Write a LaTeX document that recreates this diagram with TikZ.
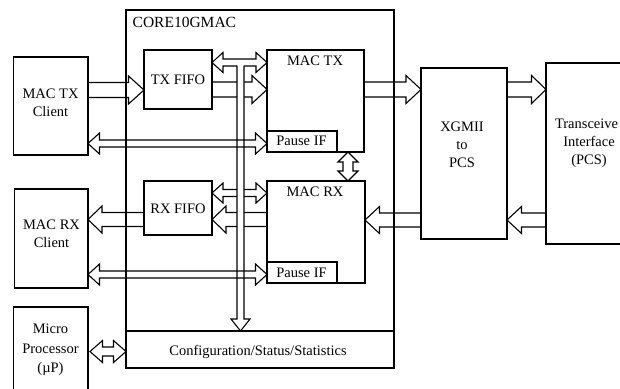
\documentclass[tikz,border=0pt]{standalone}
\usepackage{fontspec}
\setmainfont{Liberation Serif}
\usetikzlibrary{calc}
\tikzset{
  ln/.style={line width=1.1pt, draw=black},
  blk/.style={draw=black, line width=1.1pt, inner sep=0pt, outer sep=0pt, anchor=north west},
  txt/.style={align=center, inner sep=0pt, font=\fontsize{14.5}{18}\selectfont}
}
\newcommand\arrR[5]{\draw[ln] ($(#1)+(0,{-(#3)})$) -- ($(#2)+({-(#5)},{-(#3)})$) -- ($(#2)+({-(#5)},{-(#4)})$) -- (#2) -- ($(#2)+({-(#5)},{#4})$) -- ($(#2)+({-(#5)},{#3})$) -- ($(#1)+(0,{#3})$);}
\newcommand\arrL[5]{\draw[ln] ($(#1)+(0,{-(#3)})$) -- ($(#2)+({#5},{-(#3)})$) -- ($(#2)+({#5},{-(#4)})$) -- (#2) -- ($(#2)+({#5},{#4})$) -- ($(#2)+({#5},{#3})$) -- ($(#1)+(0,{#3})$);}
\newcommand\darrH[5]{\draw[ln] (#1) -- ($(#1)+({#5},{-(#4)})$) -- ($(#1)+({#5},{-(#3)})$) -- ($(#2)+({-(#5)},{-(#3)})$) -- ($(#2)+({-(#5)},{-(#4)})$) -- (#2) -- ($(#2)+({-(#5)},{#4})$) -- ($(#2)+({-(#5)},{#3})$) -- ($(#1)+({#5},{#3})$) -- ($(#1)+({#5},{#4})$) -- cycle;}
\newcommand\darrV[5]{\draw[ln] (#1) -- ($(#1)+({-(#4)},{#5})$) -- ($(#1)+({-(#3)},{#5})$) -- ($(#2)+({-(#3)},{-(#5)})$) -- ($(#2)+({-(#4)},{-(#5)})$) -- (#2) -- ($(#2)+({#4},{-(#5)})$) -- ($(#2)+({#3},{-(#5)})$) -- ($(#1)+({#3},{#5})$) -- ($(#1)+({#4},{#5})$) -- cycle;}
\begin{document}
\begin{tikzpicture}[x=1pt,y=-1pt]
\useasboundingbox (0,0) rectangle (620,388);
\fill[white] (0,0) rectangle (620,388);
\clip (0,0) rectangle (620,388);
% boxes
\node[blk, minimum width=268, minimum height=358] (core) at (126,10) {};
\node[blk, minimum width=268, minimum height=37] (cfg) at (126,331) {};
\node[blk, minimum width=74.5, minimum height=98] (mtc) at (13.5,57) {};
\node[blk, minimum width=73.5, minimum height=99] (mrc) at (14.5,189) {};
\node[blk, minimum width=74.5, minimum height=100] (mup) at (13.5,307) {};
\node[blk, minimum width=68, minimum height=59] (txf) at (144,50) {};
\node[blk, minimum width=68, minimum height=54] (rxf) at (144,181) {};
\node[blk, minimum width=97, minimum height=102] (mtx) at (267,50) {};
\node[blk, minimum width=98, minimum height=102] (mrx) at (267,181) {};
\node[blk, minimum width=70, minimum height=21] (ptx) at (267,131) {};
\node[blk, minimum width=70, minimum height=21] (prx) at (267,262) {};
\node[blk, minimum width=86, minimum height=171] (xg) at (421,68) {};
\node[blk, minimum width=100, minimum height=181] (trx) at (546,63) {};
% texts
\node[txt, font=\fontsize{15.5}{18}\selectfont, anchor=west] (tcore) at (132.5,22) {CORE10GMAC};
\node[txt] (tmtc) at (50.5,103) {MAC TX\\Client};
\node[txt] (tmrc) at (51.5,234) {MAC RX\\Client};
\node[txt, font=\fontsize{14.5}{19.5}\selectfont] (tmup) at (50.5,350) {Micro\\Processor\\(µP)};
\node[txt] (ttxf) at (178,80) {TX FIFO};
\node[txt] (trxf) at (178,209) {RX FIFO};
\node[txt] (tmtx) at (315,61) {MAC TX};
\node[txt] (tmrx) at (315,192) {MAC RX};
\node[txt] (tptx) at (301.5,141) {Pause IF};
\node[txt] (tprx) at (301.5,272.5) {Pause IF};
\node[txt] (txg) at (462,144.5) {XGMII\\to\\PCS};
\node[txt] (ttrx) at (589,143) {Transceive\phantom{r}\\Interface\\(PCS)};
\node[txt] (tcfg) at (258,351.5) {Configuration/Status/Statistics};
% TX data path
\coordinate (a1s) at (mtc.east |- 0,90); \coordinate (a1t) at (txf.west |- 0,90);
\coordinate (a2s) at (txf.east |- 0,89.5); \coordinate (a2t) at (mtx.west |- 0,89.5);
\coordinate (a3s) at (mtx.east |- 0,89.5); \coordinate (a3t) at (xg.west |- 0,89.5);
\coordinate (a4s) at (xg.east |- 0,89.5); \coordinate (a4t) at (trx.west |- 0,89.5);
\arrR{a1s}{a1t}{7.5}{14}{15.5}
\arrR{a2s}{a2t}{7.5}{14}{15}
\arrR{a3s}{a3t}{7.5}{14}{15}
\arrR{a4s}{a4t}{7.5}{14}{14.5}
% RX data path
\coordinate (b1s) at (trx.west |- 0,220); \coordinate (b1t) at (xg.east |- 0,220);
\coordinate (b2s) at (xg.west |- 0,220); \coordinate (b2t) at (mrx.east |- 0,220);
\coordinate (b3s) at (mrx.west |- 0,219.5); \coordinate (b3t) at (rxf.east |- 0,219.5);
\coordinate (b4s) at (rxf.west |- 0,219.5); \coordinate (b4t) at (mrc.east |- 0,219.5);
\arrL{b1s}{b1t}{7}{13.5}{14.5}
\arrL{b2s}{b2t}{7}{13.5}{14.5}
\arrL{b3s}{b3t}{7}{13.5}{14}
\arrL{b4s}{b4t}{7}{13.5}{14}
% FIFO <-> MAC control arrows
\coordinate (d1l) at (txf.east |- 0,62.5); \coordinate (d1r) at (mtx.west |- 0,62.5);
\coordinate (d2l) at (rxf.east |- 0,193); \coordinate (d2r) at (mrx.west |- 0,193);
\darrH{d1l}{d1r}{3.5}{10}{11}
\darrH{d2l}{d2r}{3.5}{10}{11}
% vertical bus to configuration block
\coordinate (bustip) at (cfg.north -| 240.5,0);
\fill[white] (237,62.5) -- (237,319) -- (231,319) -- (bustip) -- (250,319) -- (244,319) -- (244,62.5) -- cycle;
\draw[ln] (237,65.5) -- (237,319) -- (231,319) -- (bustip) -- (250,319) -- (244,319) -- (244,65.5);
% pause interface arrows
\coordinate (p1l) at (mtc.east |- 0,143.5); \coordinate (p1r) at (ptx.west |- 0,143.5);
\coordinate (p2l) at (mrc.east |- 0,274.5); \coordinate (p2r) at (prx.west |- 0,274.5);
\darrH{p1l}{p1r}{3.5}{10.5}{11.5}
\darrH{p2l}{p2r}{3.5}{10.5}{11.5}
% MAC TX <-> MAC RX
\coordinate (v1t) at (mtx.south -| 348,0); \coordinate (v1b) at (mrx.north -| 348,0);
\darrV{v1t}{v1b}{5}{10}{10}
% micro processor <-> configuration
\coordinate (m1l) at ($(mup.east |- 0,351.5)+(2,0)$); \coordinate (m1r) at (cfg.west |- 0,351.5);
\darrH{m1l}{m1r}{4.5}{11}{12.5}
\end{tikzpicture}
\end{document}
